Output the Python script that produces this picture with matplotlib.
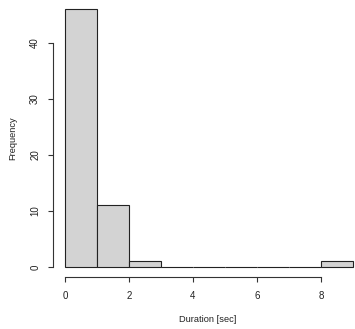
import numpy as np
import matplotlib.pyplot as plt

plt.rcParams['font.family'] = ['Liberation Sans', 'DejaVu Sans']

# histogram of durations, one-second bins
bin_edges = [0, 1, 2, 3, 4, 5, 6, 7, 8, 9]
counts = [46, 11, 1, 0, 0, 0, 0, 0, 1]
x_ticks = [0, 2, 4, 6, 8]
y_ticks = [0, 10, 20, 30, 40]

fig = plt.figure(figsize=(3.55, 3.29), dpi=100)
ax = fig.add_axes([0.1507, 0.157, 0.876, 0.8456])

ax.bar(bin_edges[:-1], counts, width=np.diff(bin_edges), align='edge',
       color='#D3D3D3', edgecolor='#222222', linewidth=0.8)

ax.set_xlim(-0.36, 9.36)
ax.set_ylim(-1.84, 47.84)

for side in ['top', 'right']:
    ax.spines[side].set_visible(False)
ax.spines['left'].set_bounds(y_ticks[0], y_ticks[-1])
ax.spines['bottom'].set_bounds(x_ticks[0], x_ticks[-1])
for side in ['left', 'bottom']:
    ax.spines[side].set_linewidth(0.8)
    ax.spines[side].set_color('#333333')

ax.set_xticks(x_ticks)
ax.set_yticks(y_ticks)
ax.tick_params(axis='both', length=3.6, width=0.8, color='#333333',
               labelsize=7, labelcolor='#222222')
ax.tick_params(axis='x', pad=6)
ax.tick_params(axis='y', pad=6)
for lbl in ax.get_yticklabels():
    lbl.set_rotation(90)
    lbl.set_va('center')

ax.set_xlabel('Duration [sec]', fontsize=6.7, color='#222222')
ax.set_ylabel('Frequency', fontsize=6.7, color='#222222')
ax.xaxis.set_label_coords(0.497, -0.153)
ax.yaxis.set_label_coords(-0.130, 0.5)
ax.xaxis.label.set_va('center')
ax.yaxis.label.set_va('center')

fig.savefig('out.png', dpi=100, facecolor='white')
